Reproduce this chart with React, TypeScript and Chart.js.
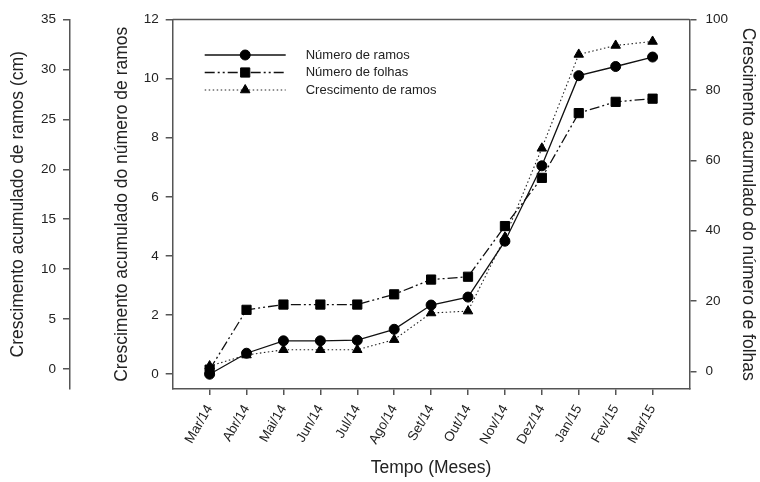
import React, { useEffect, useRef } from 'react';
import { Chart, registerables } from 'chart.js';

Chart.register(...registerables);

const months = ['Mar/14', 'Abr/14', 'Mai/14', 'Jun/14', 'Jul/14', 'Ago/14', 'Set/14', 'Out/14', 'Nov/14', 'Dez/14', 'Jan/15', 'Fev/15', 'Mar/15'];
const numeroRamos = [0.0, 0.71, 1.13, 1.13, 1.15, 1.52, 2.34, 2.61, 4.5, 7.05, 10.1, 10.41, 10.73];
const numeroFolhas = [0.5, 17.5, 19.0, 19.0, 19.0, 21.9, 26.1, 26.9, 41.3, 55.0, 73.4, 76.6, 77.5];
const crescimentoRamos = [0.3, 1.4, 1.93, 1.93, 1.93, 2.94, 5.61, 5.8, 13.2, 22.1, 31.5, 32.4, 32.8];

const seriesLabels = ['Número de ramos', 'Número de folhas', 'Crescimento de ramos'];
const axisTitleCm = 'Crescimento acumulado de ramos (cm)';
const axisTitleRamos = 'Crescimento acumulado do número de ramos';
const axisTitleFolhas = 'Crescimento acumulado do número de folhas';
const axisTitleX = 'Tempo (Meses)';

const FONT = "'Liberation Sans', Arial, Helvetica, sans-serif";
const AXIS = '#555';
const TEXT = '#222';
const TICK_FONT = { family: FONT, size: 13.5 };
const X_TICK_FONT = { family: FONT, size: 13.5 };
const TITLE_FONT = { family: FONT, size: 17.5, lineHeight: 1 };

function drawMarker(ctx: CanvasRenderingContext2D, style: string, x: number, y: number, r: number) {
  ctx.beginPath();
  if (style === 'rect') {
    const s = r * Math.SQRT1_2;
    ctx.rect(x - s, y - s, 2 * s, 2 * s);
  } else if (style === 'triangle') {
    for (let k = 0; k < 3; k++) {
      const a = (k * 2 * Math.PI) / 3;
      const px = x + Math.sin(a) * r;
      const py = y - Math.cos(a) * r;
      if (k === 0) ctx.moveTo(px, py);
      else ctx.lineTo(px, py);
    }
    ctx.closePath();
  } else {
    ctx.arc(x, y, r, 0, Math.PI * 2);
  }
  ctx.fill();
  ctx.stroke();
}

const boxAndLegend = {
  id: 'boxAndLegend',
  afterDraw(chart: any) {
    const ctx: CanvasRenderingContext2D = chart.ctx;
    const { left, right, top } = chart.chartArea;
    ctx.save();
    ctx.strokeStyle = AXIS;
    ctx.lineWidth = 1.5;
    ctx.beginPath();
    ctx.moveTo(left, top);
    ctx.lineTo(right, top);
    ctx.stroke();

    const x0 = left + 32;
    const x1 = left + 113;
    const xm = (x0 + x1) / 2;
    const xt = left + 133;
    chart.data.datasets.forEach((ds: any, i: number) => {
      const y = top + 35.5 + i * 17.5;
      ctx.strokeStyle = ds.borderColor;
      ctx.lineWidth = ds.borderWidth;
      ctx.setLineDash(ds.borderDash || []);
      ctx.beginPath();
      ctx.moveTo(x0, y);
      ctx.lineTo(x1, y);
      ctx.stroke();
      ctx.setLineDash([]);
      ctx.fillStyle = ds.pointBackgroundColor;
      ctx.strokeStyle = ds.pointBorderColor;
      ctx.lineWidth = 1;
      drawMarker(ctx, ds.pointStyle, xm, y, ds.pointRadius);
      ctx.fillStyle = TEXT;
      ctx.font = `13px ${FONT}`;
      ctx.textAlign = 'left';
      ctx.textBaseline = 'middle';
      ctx.fillText(ds.label, xt, y);
    });
    ctx.restore();
  },
};

export default function App() {
  const ref = useRef<HTMLCanvasElement>(null);

  useEffect(() => {
    const canvas = ref.current;
    if (!canvas) return;
    const toXY = (vals: number[]) => months.map((_, i) => ({ x: i, y: vals[i] }));

    const chart = new Chart(canvas, {
      type: 'line',
      data: {
        datasets: [
          {
            label: seriesLabels[0],
            data: toXY(numeroRamos),
            yAxisID: 'yRamos',
            borderColor: '#111',
            borderWidth: 1.3,
            pointStyle: 'circle',
            pointRadius: 5,
            pointBackgroundColor: '#000',
            pointBorderColor: '#000',
            pointBorderWidth: 1,
            tension: 0,
          },
          {
            label: seriesLabels[1],
            data: toXY(numeroFolhas),
            yAxisID: 'yFolhas',
            borderColor: '#111',
            borderWidth: 1.3,
            borderDash: [10, 3, 2, 3, 2, 3],
            pointStyle: 'rect',
            pointRadius: 6.5,
            pointBackgroundColor: '#000',
            pointBorderColor: '#000',
            pointBorderWidth: 1,
            tension: 0,
          },
          {
            label: seriesLabels[2],
            data: toXY(crescimentoRamos),
            yAxisID: 'yCm',
            borderColor: '#222',
            borderWidth: 1.1,
            borderDash: [1.5, 2.5],
            pointStyle: 'triangle',
            pointRadius: 5.5,
            pointBackgroundColor: '#000',
            pointBorderColor: '#000',
            pointBorderWidth: 1,
            tension: 0,
          },
        ],
      },
      options: {
        responsive: false,
        animation: false,
        devicePixelRatio: 1,
        layout: { padding: { top: 19.5, left: 0, right: 0, bottom: 0 } },
        plugins: { legend: { display: false }, tooltip: { enabled: false } },
        scales: {
          x: {
            type: 'linear',
            position: 'bottom',
            min: -1,
            max: 13,
            afterBuildTicks: (s: any) => {
              s.ticks = s.ticks.filter((t: any) => t.value >= 0 && t.value <= 12);
            },
            afterFit: (s: any) => {
              s.height = 93;
            },
            ticks: {
              stepSize: 1,
              autoSkip: false,
              minRotation: 60,
              maxRotation: 60,
              padding: 7,
              color: TEXT,
              font: X_TICK_FONT,
              callback: (v: any) => months[v as number] ?? '',
            },
            grid: { display: true, drawOnChartArea: false, drawTicks: true, tickLength: 6, color: AXIS, lineWidth: 1.5 },
            border: { display: true, color: AXIS, width: 1.5 },
            title: { display: true, text: axisTitleX, color: TEXT, font: TITLE_FONT, padding: { top: 0, bottom: 5 } },
          },
          yCm: {
            type: 'linear',
            position: 'left',
            weight: 1,
            min: -2,
            max: 35,
            afterFit: (s: any) => {
              s.width = 70;
            },
            ticks: { stepSize: 5, includeBounds: false, padding: 7, color: TEXT, font: TICK_FONT },
            grid: { display: true, drawOnChartArea: false, drawTicks: true, tickLength: 7, color: AXIS, lineWidth: 1.5 },
            border: { display: true, color: AXIS, width: 1.5 },
            title: { display: true, text: axisTitleCm, color: TEXT, font: TITLE_FONT, padding: { top: 9.75, bottom: 0 } },
          },
          yRamos: {
            type: 'linear',
            position: 'left',
            weight: 0,
            min: -0.5,
            max: 12,
            afterFit: (s: any) => {
              s.width = 102.7;
            },
            ticks: { stepSize: 2, includeBounds: false, padding: 7, color: TEXT, font: TICK_FONT },
            grid: { display: true, drawOnChartArea: false, drawTicks: true, tickLength: 7, color: AXIS, lineWidth: 1.5 },
            border: { display: true, color: AXIS, width: 1.5 },
            title: { display: true, text: axisTitleRamos, color: TEXT, font: TITLE_FONT, padding: { top: 43.25, bottom: 0 } },
          },
          yFolhas: {
            type: 'linear',
            position: 'right',
            min: -5,
            max: 100,
            afterFit: (s: any) => {
              s.width = 70.5;
            },
            ticks: { stepSize: 20, includeBounds: false, padding: 9, color: TEXT, font: TICK_FONT },
            grid: { display: true, drawOnChartArea: false, drawTicks: true, tickLength: 7, color: AXIS, lineWidth: 1.5 },
            border: { display: true, color: AXIS, width: 1.5 },
            title: { display: true, text: axisTitleFolhas, color: TEXT, font: TITLE_FONT, padding: { top: 3.25, bottom: 0 } },
          },
        },
      },
      plugins: [boxAndLegend],
    } as any);

    return () => chart.destroy();
  }, []);

  return (
    <div style={{ position: 'fixed', left: 0, top: 0, width: 760, height: 482, background: '#fff' }}>
      <canvas ref={ref} width={760} height={482} style={{ display: 'block', width: 760, height: 482 }} />
    </div>
  );
}
